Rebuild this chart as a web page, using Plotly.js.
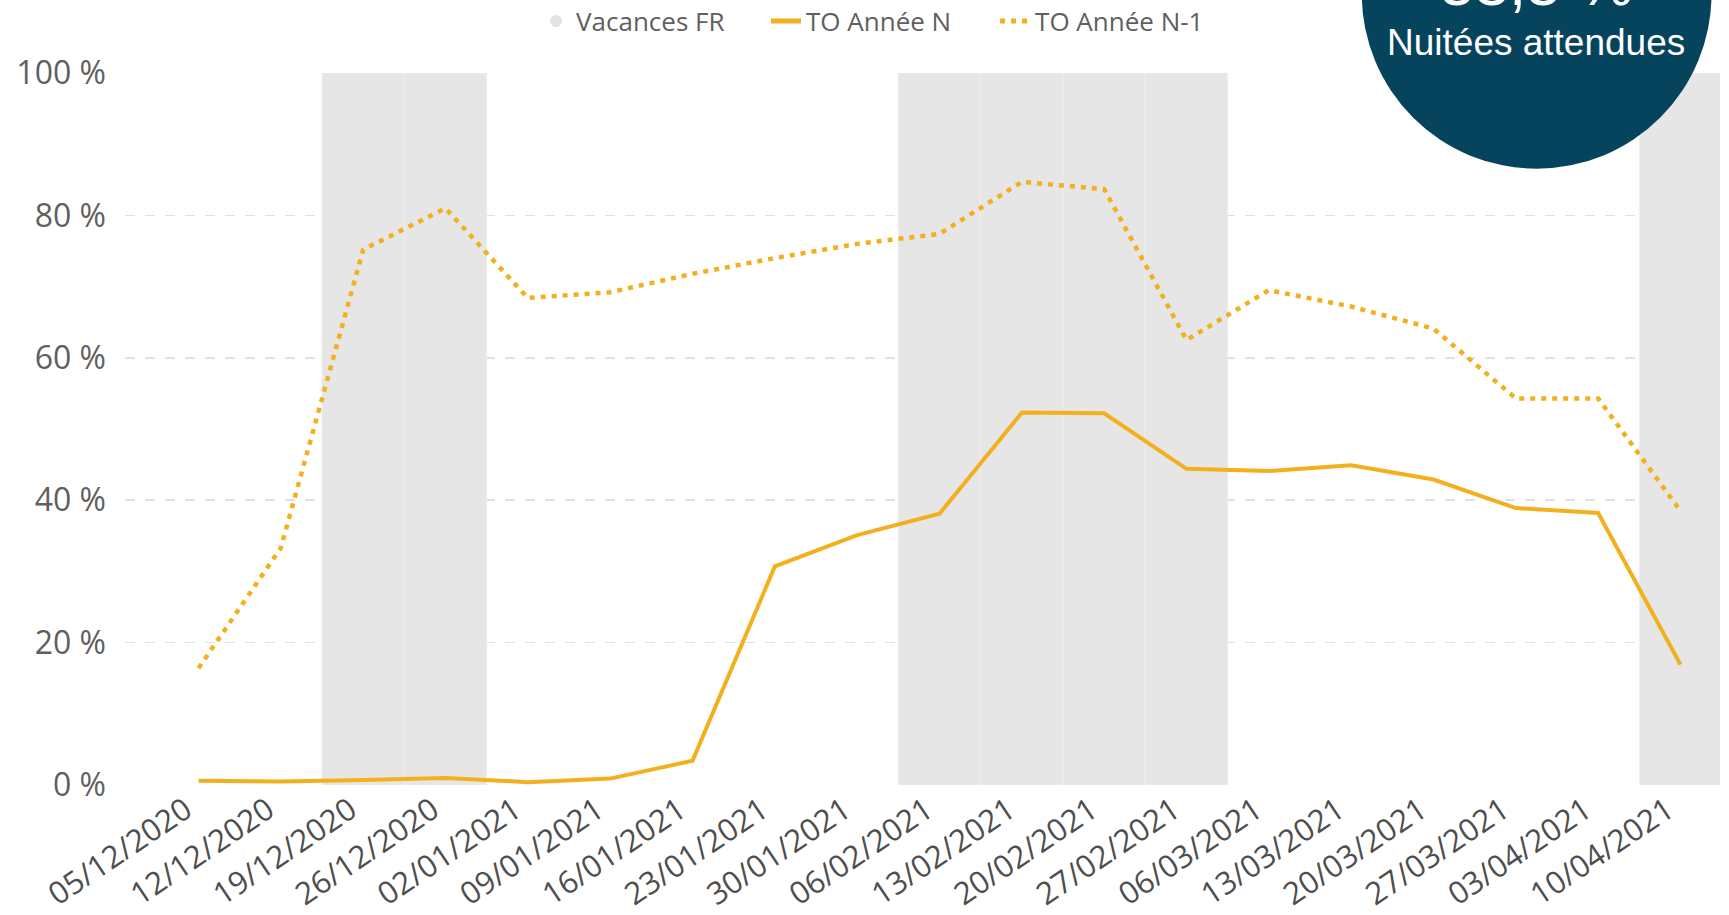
<!DOCTYPE html>
<html>
<head>
<meta charset="utf-8">
<script src="https://cdn.plot.ly/plotly-3.0.1.min.js"></script>
<style>
  html, body { margin: 0; padding: 0; background: #ffffff; }
  #chart { width: 1729px; height: 915px; }
</style>
</head>
<body>
<div id="chart"></div>
<script>
// ---- data ----
const weeks = ["05/12/2020","12/12/2020","19/12/2020","26/12/2020","02/01/2021","09/01/2021",
  "16/01/2021","23/01/2021","30/01/2021","06/02/2021","13/02/2021","20/02/2021","27/02/2021",
  "06/03/2021","13/03/2021","20/03/2021","27/03/2021","03/04/2021","10/04/2021"];
const vacancesFR = [null,null,100,100,null,null,null,null,null,100,100,100,100,null,null,null,null,null,100];
const toAnneeN = [0.6,0.5,0.7,1.0,0.4,0.9,3.4,30.7,35.1,38.1,52.3,52.2,44.4,44.1,44.9,42.9,38.9,38.2,16.9];
const toAnneeN1 = [16.4,33.3,75.2,81.0,68.4,69.2,71.8,74.0,76.0,77.4,84.7,83.7,62.5,69.5,67.2,64.1,54.3,54.3,38.5];
const yTickVals = [0, 20, 40, 60, 80, 100];
const yTickText = ["0 %", "20 %", "40 %", "60 %", "80 %", "100 %"];
const kpiValue = "53,5 %";
const kpiLabel = "Nuitées attendues";

const gold = "#F2B01E";
const grey = "#5f5f5f";
const font = "Open Sans, DejaVu Sans, sans-serif";
const legendFont = { family: font, size: 26, color: grey };

const traces = [
  { type: "bar", x: weeks, y: vacancesFR, name: "Vacances FR", showlegend: false,
    marker: { color: "#E6E6E6", line: { color: "#EDEDED", width: 0.8 } }, hoverinfo: "skip" },
  { type: "scatter", mode: "markers", x: [weeks[0]], y: [null], name: "Vacances FR", legend: "legend",
    marker: { symbol: "circle", color: "#E3E3E3", size: 16 } },
  { type: "scatter", mode: "lines", x: weeks, y: toAnneeN, name: "TO Année N", legend: "legend2",
    line: { color: gold, width: 4 } },
  { type: "scatter", mode: "lines", x: weeks, y: toAnneeN1, name: "TO Année N-1", legend: "legend3",
    line: { color: gold, width: 4.5, dash: "5px,6px" } }
];

const legendBase = { orientation: "h", xanchor: "left", y: 1.073, yanchor: "middle",
  font: legendFont, bgcolor: "rgba(0,0,0,0)", itemsizing: "constant" };

const layout = {
  width: 1729, height: 915,
  margin: { l: 125, r: 9, t: 73, b: 130, pad: 0, autoexpand: false },
  paper_bgcolor: "#ffffff", plot_bgcolor: "#ffffff",
  bargap: 0,
  showlegend: true,
  legend: Object.assign({}, legendBase, { x: 0.2577 }),
  legend2: Object.assign({}, legendBase, { x: 0.4019 }),
  legend3: Object.assign({}, legendBase, { x: 0.5455 }),
  xaxis: {
    type: "category", range: [-0.893, 18.48], showgrid: false, zeroline: false, showline: false,
    tickangle: -34, ticks: "", ticklabelstandoff: 0, ticklabelshift: -13, automargin: false,
    tickfont: { family: font, size: 31, color: "#4e4e4e" }
  },
  yaxis: {
    range: [0, 100], tickmode: "array", tickvals: yTickVals, ticktext: yTickText,
    showgrid: true, gridcolor: "#E0E0E0", gridwidth: 1.6, griddash: "10px,10px",
    zeroline: false, showline: false, ticks: "", ticklabelstandoff: 18, automargin: false,
    tickfont: { family: font, size: 32, color: grey }
  },
  shapes: [
    { type: "circle", xref: "paper", yref: "paper", x0: 0.7754, x1: 0.9947, y0: 0.8656, y1: 1.3569,
      fillcolor: "#06445E", line: { width: 0 }, layer: "above" }
  ],
  annotations: [
    { xref: "paper", yref: "paper", x: 0.8849, y: 1.0435, xanchor: "center", yanchor: "middle",
      text: kpiLabel, showarrow: false,
      font: { family: "Liberation Sans, Arial, sans-serif", size: 37, color: "#ffffff" } },
    { xref: "paper", yref: "paper", x: 0.8849, y: 1.1257, xanchor: "center", yanchor: "middle",
      text: kpiValue, showarrow: false,
      font: { family: "Liberation Sans, Arial, sans-serif", size: 62, color: "#ffffff" } }
  ]
};

Plotly.newPlot("chart", traces, layout, { displayModeBar: false, staticPlot: true });
</script>
</body>
</html>
